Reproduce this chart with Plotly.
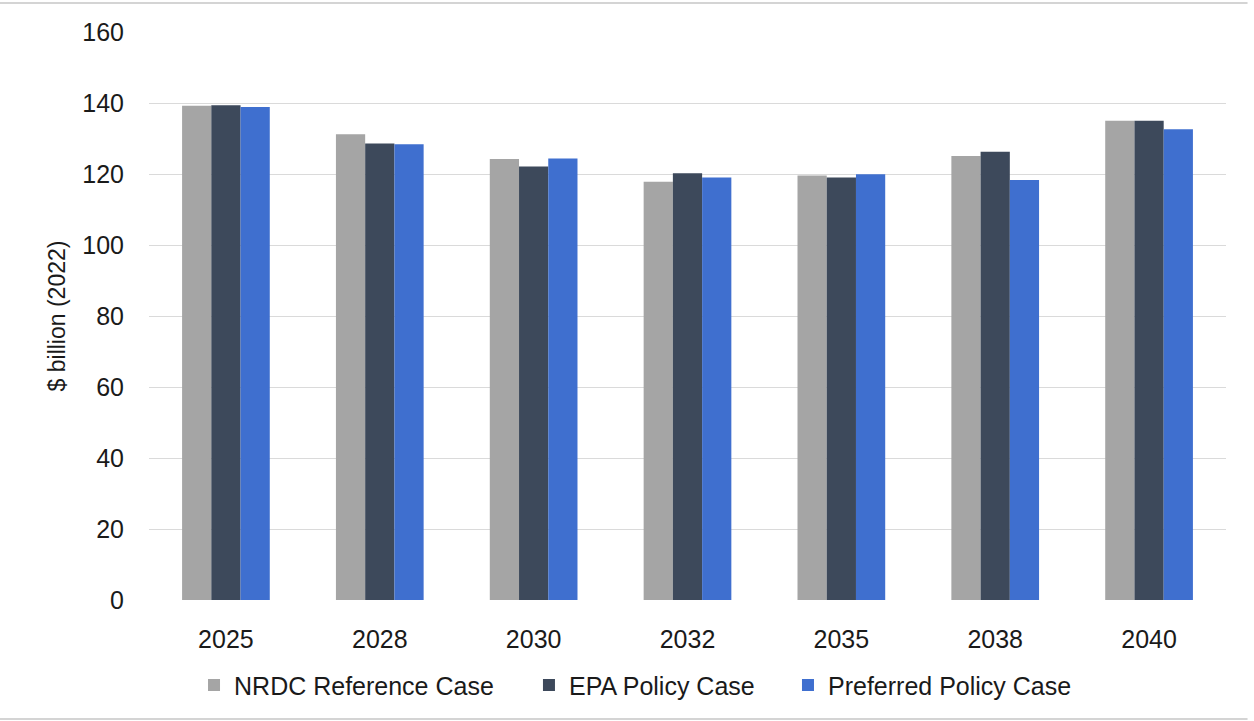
import plotly.graph_objects as go

# Projected spending by scenario, $ billion (2022 dollars)
years = ["2025", "2028", "2030", "2032", "2035", "2038", "2040"]
nrdc_reference = [139.2, 131.2, 124.2, 117.8, 119.6, 125.1, 135.0]
epa_policy = [139.4, 128.6, 122.1, 120.2, 119.0, 126.3, 135.0]
preferred_policy = [138.9, 128.4, 124.4, 119.0, 119.9, 118.3, 132.6]

series_names = ["NRDC Reference Case", "EPA Policy Case", "Preferred Policy Case"]
series_values = [nrdc_reference, epa_policy, preferred_policy]
series_colors = ["#A5A5A5", "#3D495B", "#3F6FCF"]
legend_ids = ["legend", "legend2", "legend3"]
legend_x = [0.0418, 0.3528, 0.5933]

FONT = "Liberation Sans, Arial, sans-serif"
TEXT_COLOR = "#1a1a1a"

fig = go.Figure()
for name, vals, color, lg in zip(series_names, series_values, series_colors, legend_ids):
    fig.add_trace(go.Bar(
        x=years, y=vals, name=name, legend=lg,
        marker=dict(color=color, line=dict(width=0)),
    ))

legend_common = dict(
    orientation="h", yanchor="middle", y=-0.15, xanchor="left",
    font=dict(family=FONT, size=25, color=TEXT_COLOR),
    bgcolor="rgba(0,0,0,0)", borderwidth=0,
)

layout_legends = {}
for lg, lx in zip(legend_ids, legend_x):
    layout_legends[lg] = dict(legend_common, x=lx)

fig.update_layout(
    width=1254, height=721,
    margin=dict(l=149, r=28, t=32, b=121),
    paper_bgcolor="white", plot_bgcolor="white",
    font=dict(family=FONT, size=25, color=TEXT_COLOR),
    barmode="group", bargap=0.43, bargroupgap=0,
    showlegend=True,
    **layout_legends,
)

fig.update_xaxes(
    type="category", showgrid=False, zeroline=False, showline=False,
    ticks="outside", ticklen=17, tickcolor="rgba(0,0,0,0)",
    tickfont=dict(family=FONT, size=25, color=TEXT_COLOR),
)
fig.update_yaxes(
    range=[0, 160], dtick=20, showgrid=True, gridcolor="#DADADA", gridwidth=1,
    zeroline=False, showline=False,
    ticks="outside", ticklen=19, tickcolor="rgba(0,0,0,0)",
    tickfont=dict(family=FONT, size=25, color=TEXT_COLOR),
    title=dict(text="$ billion (2022)", standoff=10,
               font=dict(family=FONT, size=23, color=TEXT_COLOR)),
)

# thin frame lines across the top and bottom of the chart
for yy in (1.051, -0.2095):
    fig.add_shape(type="line", xref="paper", yref="paper",
                  x0=-149 / 1077, x1=1.02, y0=yy, y1=yy,
                  line=dict(color="#D4D4D4", width=2))

fig.write_html("out.html")
